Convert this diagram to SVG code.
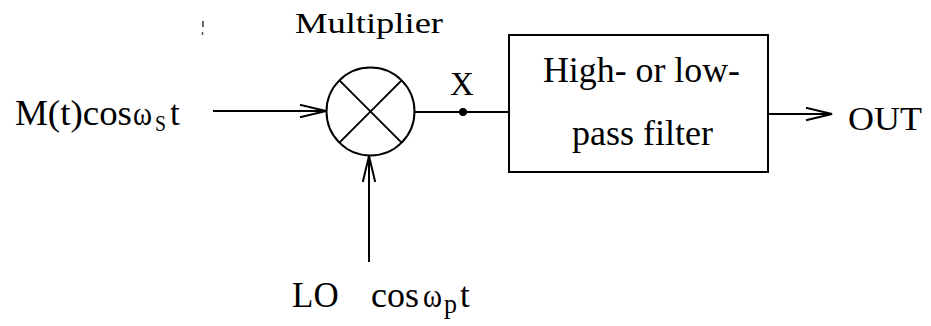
<svg xmlns="http://www.w3.org/2000/svg" width="931" height="326" viewBox="0 0 931 326">
<style>
text{font-family:"Liberation Serif","Times New Roman",serif;fill:#000}
.ln{stroke:#000;stroke-width:2;fill:none}
</style>
<defs>
<marker id="arr" markerUnits="userSpaceOnUse" markerWidth="30" markerHeight="16" refX="27" refY="7" orient="auto">
<path d="M1,0.8 L27,7 L1,13.2" fill="none" stroke="#000" stroke-width="2"/>
</marker>
</defs>
<rect width="931" height="326" fill="#fff"/>
<g id="artifact"><line x1="203" y1="21" x2="203" y2="27" stroke="#333" stroke-width="1.5"/><line x1="202.5" y1="32" x2="202.5" y2="35" stroke="#555" stroke-width="1.5"/></g>
<g id="connectors">
<line class="ln" x1="213" y1="111" x2="326" y2="111" marker-end="url(#arr)"/>
<line class="ln" x1="369" y1="262" x2="369" y2="156" marker-end="url(#arr)"/>
<line class="ln" x1="415" y1="112" x2="509" y2="112"/>
<line class="ln" x1="768" y1="114" x2="832" y2="114" marker-end="url(#arr)"/>
<circle cx="463" cy="112" r="4" fill="#000"/>
</g>
<g id="input">
<text font-family="Liberation Serif, serif" x="15" y="125" font-size="35" textLength="117" lengthAdjust="spacingAndGlyphs">M(t)cos</text>
<text font-family="Liberation Serif, serif" x="133" y="125" font-size="33" textLength="19" lengthAdjust="spacingAndGlyphs">ω</text>
<text font-family="Liberation Serif, serif" x="155" y="131" font-size="23" textLength="11" lengthAdjust="spacingAndGlyphs">S</text>
<text font-family="Liberation Serif, serif" x="170" y="125" font-size="35">t</text>
</g>
<g id="multiplier">
<circle class="ln" cx="370.5" cy="111.5" r="44"/>
<line class="ln" x1="339.4" y1="80.4" x2="401.6" y2="142.6"/>
<line class="ln" x1="401.6" y1="80.4" x2="339.4" y2="142.6"/>
<text font-family="Liberation Serif, serif" x="295" y="33" font-size="30" textLength="148" lengthAdjust="spacingAndGlyphs">Multiplier</text>
</g>
<g id="pointX">
<text font-family="Liberation Serif, serif" x="450" y="95" font-size="33">X</text>
</g>
<g id="filter">
<rect class="ln" x="509" y="35" width="259" height="137"/>
<text font-family="Liberation Serif, serif" x="543" y="82" font-size="35" textLength="197" lengthAdjust="spacingAndGlyphs">High- or low-</text>
<text font-family="Liberation Serif, serif" x="572" y="145" font-size="35" textLength="141" lengthAdjust="spacingAndGlyphs">pass filter</text>
</g>
<g id="out">
<text font-family="Liberation Serif, serif" x="848" y="130" font-size="34" textLength="74" lengthAdjust="spacingAndGlyphs">OUT</text>
</g>
<g id="lo">
<text font-family="Liberation Serif, serif" x="292" y="307" font-size="35">LO</text>
<text font-family="Liberation Serif, serif" x="371" y="307" font-size="35" textLength="48" lengthAdjust="spacingAndGlyphs">cos</text>
<text font-family="Liberation Serif, serif" x="423" y="307" font-size="33" textLength="19" lengthAdjust="spacingAndGlyphs">ω</text>
<text font-family="Liberation Serif, serif" x="444" y="313" font-size="28" textLength="13" lengthAdjust="spacingAndGlyphs">p</text>
<text font-family="Liberation Serif, serif" x="460" y="307" font-size="35">t</text>
</g>
</svg>
